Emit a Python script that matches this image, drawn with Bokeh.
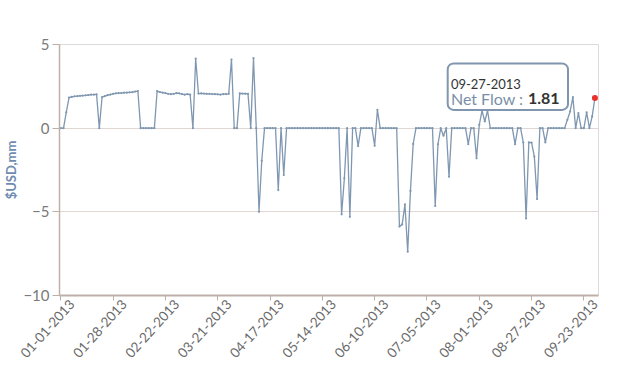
import math
from bokeh.plotting import figure
from bokeh.models import (FixedTicker, Label, BoxAnnotation, Range1d, LinearAxis,
                          CustomLabelingPolicy)
from bokeh.embed import file_html
from bokeh.resources import INLINE

# ---- data (one value per business day, 01-01-2013 .. 09-27-2013) ----
net_flow = [
    0, 0, 0.95, 1.83, 1.87, 1.90, 1.91, 1.93, 1.95, 1.96,
    1.98, 2.00, 2.01, 2.02, 0, 1.86, 1.91, 1.97, 2.01, 2.05,
    2.08, 2.10, 2.10, 2.12, 2.12, 2.14, 2.15, 2.19, 2.22, 0,
    0, 0, 0, 0, 0, 2.22, 2.16, 2.12, 2.10, 2.05,
    2.03, 2.05, 2.09, 2.08, 2.04, 2.00, 2.03, 2.00, 0, 4.15,
    2.07, 2.08, 2.07, 2.05, 2.05, 2.04, 2.03, 2.02, 2.01, 2.03,
    2.04, 2.05, 4.10, 0, 0, 2.08, 2.07, 2.06, 2.05, 0,
    4.18, 0, -5.0, -1.95, 0, 0, 0, 0, 0, -3.7,
    0, -2.8, 0, 0, 0, 0, 0, 0, 0, 0,
    0, 0, 0, 0, 0, 0, 0, 0, 0, 0,
    0, 0, -5.15, -3.0, 0, -5.3, 0, 0, -1.07, 0,
    0, 0, 0, 0, -1.05, 1.1, 0, 0, 0, 0,
    0, 0, 0, -5.88, -5.75, -4.55, -7.38, -3.75, -0.94, 0,
    0, 0, 0, 0, 0, 0, -4.65, -0.96, 0, -0.45,
    0, -2.9, 0, 0, 0, 0, 0, 0, -0.96, 0,
    0, -1.8, 0.2, 1.05, 0.4, 1.05, 0, 0, 0, 0,
    0, 0, 0, 0, 0, -0.96, 0, 0, -0.86, -5.4,
    -0.85, -0.86, -1.7, -4.24, 0, 0, -0.85, 0, 0, 0,
    0, 0, 0, 0, 0.5, 1.0, 1.85, 0, 0.9, 0,
    0, 0.95, 0, 0.7, 1.81,
]
tick_idx = [0, 19, 38, 57, 76, 95, 114, 133, 152, 171, 190]
tick_labels = ["01-01-2013", "01-28-2013", "02-22-2013", "03-21-2013",
               "04-17-2013", "05-14-2013", "06-10-2013", "07-05-2013",
               "08-01-2013", "08-27-2013", "09-23-2013"]
y_ticks = [-10, -5, 0, 5]
last_date = "09-27-2013"
series_name = "Net Flow"
y_title = "$USD,mm"

x = list(range(len(net_flow)))

# ---- layout ----
W, H = 620, 367
BL, BR, BT, BB = 47, 22, 44, 72
X0, X1 = -0.46, 195.3
Y0, Y1 = -10, 5
PXX = (W - BL - BR) / (X1 - X0)
PXY = (H - BT - BB) / (Y1 - Y0)
FONT = "Lato"

p = figure(width=W, height=H, x_range=Range1d(X0, X1), y_range=Range1d(Y0, Y1),
           output_backend="svg", toolbar_location=None,
           min_border_left=BL, min_border_right=BR, min_border_top=BT, min_border_bottom=BB)
p.background_fill_color = "white"
p.border_fill_color = "white"
p.outline_line_color = "#dedada"

p.xgrid.visible = False
p.ygrid.grid_line_color = "#e0d6d2"
p.ygrid.grid_line_width = 1

axis_col = "#bdb0a8"
p.yaxis.ticker = FixedTicker(ticks=y_ticks)
p.yaxis.axis_line_color = axis_col
p.yaxis.axis_line_width = 1.5
p.yaxis.major_tick_line_color = axis_col
p.yaxis.major_tick_out = 7
p.yaxis.major_tick_in = 0
p.yaxis.minor_tick_line_color = None
p.yaxis.major_label_standoff = 3
p.yaxis.major_label_text_font = FONT
p.yaxis.major_label_text_font_size = "15px"
p.yaxis.major_label_text_color = "#7a7a7a"
p.yaxis.axis_label = y_title
p.yaxis.axis_label_standoff = 1
p.yaxis.axis_label_text_font = FONT
p.yaxis.axis_label_text_font_size = "13px"
p.yaxis.axis_label_text_font_style = "bold"
p.yaxis.axis_label_text_color = "#6f8cb0"

# axis with the tick marks only (labels carried by a second axis below)
p.xaxis.ticker = FixedTicker(ticks=tick_idx)
p.xaxis.axis_line_color = axis_col
p.xaxis.axis_line_width = 2
p.xaxis.major_tick_line_color = axis_col
p.xaxis.major_tick_out = 5
p.xaxis.major_tick_in = 0
p.xaxis.minor_tick_line_color = None
p.xaxis.major_label_standoff = 0
p.xaxis.major_label_text_font_size = "0px"
p.xaxis.major_label_policy = CustomLabelingPolicy(code="""
    for (const i of indices) indices.unset(i)
    return indices
""")

# rotated date labels, centred under their ticks: a label axis on a shifted range
SHIFT = 4.0
p.extra_x_ranges = {"labels": Range1d(X0 - SHIFT, X1 - SHIFT)}
lab_axis = LinearAxis(x_range_name="labels", ticker=FixedTicker(ticks=tick_idx),
                      bounds=(X0 - SHIFT + 4, X1 - SHIFT + 2),
                      major_label_overrides={t: lab for t, lab in zip(tick_idx, tick_labels)},
                      major_label_orientation=math.radians(48),
                      axis_line_color=None, major_tick_line_color=None,
                      minor_tick_line_color=None, major_tick_out=0, major_tick_in=0,
                      major_label_standoff=1, major_label_text_font=FONT,
                      major_label_text_font_size="13.5px", major_label_text_color="#6a6a6a")
p.add_layout(lab_axis, "below")

line_col = "#7f97b0"
p.line(x, net_flow, line_color=line_col, line_width=1.3)
p.scatter(x, net_flow, size=2.2, fill_color=line_col, line_color=None)
p.scatter([x[-1]], [net_flow[-1]], size=6, fill_color="#e8302c", line_color=None)

# tooltip for the last point
lx, ly = x[-1], net_flow[-1]
p.add_layout(BoxAnnotation(left=lx - 150.5 / PXX, right=lx - 27.5 / PXX,
                           top=ly + 34.5 / PXY, bottom=ly - 12 / PXY,
                           fill_color="white", fill_alpha=1.0,
                           line_color="#8096ae", line_alpha=1.0, line_width=2,
                           border_radius=6))
p.add_layout(Label(x=lx, y=ly, x_offset=-144, y_offset=14, text=last_date,
                   text_baseline="alphabetic", text_font=FONT, text_font_size="13px",
                   text_color="#333333"))
p.add_layout(Label(x=lx, y=ly, x_offset=-144, y_offset=-1, text=series_name + " :",
                   text_baseline="alphabetic", text_font=FONT, text_font_size="16px",
                   text_color="#7a90a8"))
p.add_layout(Label(x=lx, y=ly, x_offset=-67, y_offset=-1, text=f"{ly:.2f}",
                   text_baseline="alphabetic", text_font=FONT, text_font_size="16px",
                   text_font_style="bold", text_color="#333333"))

open("out.html", "w").write(file_html(p, INLINE))
